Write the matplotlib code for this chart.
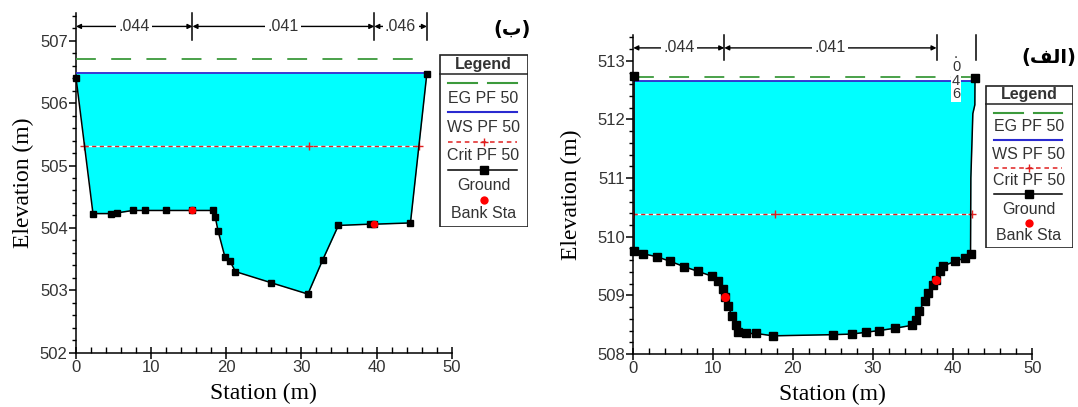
import numpy as np
import matplotlib.pyplot as plt
from matplotlib.ticker import MultipleLocator

# ---- panel (ب): left cross-section ----
sta_b = [0, 2.26, 4.7, 5.4, 7.56, 9.18, 11.99, 15.45, 18.17, 18.54, 18.91, 19.83,
         20.48, 21.22, 26.01, 30.86, 32.84, 34.92, 39.07, 39.67, 44.51, 46.68]
elev_b = [506.41, 504.23, 504.23, 504.24, 504.28, 504.28, 504.28, 504.28, 504.28,
          504.17, 503.95, 503.53, 503.47, 503.30, 503.12, 502.94, 503.49, 504.04,
          504.06, 504.06, 504.08, 506.46]
bank_sta_b = [15.45, 39.67]
bank_elev_b = [504.28, 504.06]
ws_b = 506.48
eg_b = 506.70
crit_b = 505.32
crit_x_b = [1.1, 31.0, 45.7]
n_edges_b = [0, 15.5, 39.7, 46.7]
n_vals_b = ['.044', '.041', '.046']

# ---- panel (الف): right cross-section ----
sta_a = [0.1, 0.1, 1.2, 2.92, 4.64, 6.36, 8.08, 9.8, 10.66, 11.3, 11.44, 11.87, 12.38,
         12.81, 13.16, 14.1, 15.4, 17.5, 25.07, 27.4, 29.1, 30.8, 32.8, 34.95, 35.4,
         35.8, 36.5, 36.9, 37.5, 37.96, 38.4, 38.8, 40.3, 41.6, 42.26, 42.3, 42.55,
         42.8, 42.82]
elev_a = [512.74, 509.75, 509.71, 509.66, 509.58, 509.49, 509.41, 509.33, 509.24,
          509.10, 508.97, 508.82, 508.64, 508.50, 508.38, 508.35, 508.35, 508.31,
          508.33, 508.34, 508.37, 508.40, 508.44, 508.49, 508.58, 508.73, 508.90,
          509.04, 509.18, 509.27, 509.41, 509.50, 509.58, 509.64, 509.70, 511.0,
          512.1, 512.25, 512.70]
no_marker_a = [35, 36, 37]
bank_sta_a = [11.44, 37.96]
bank_elev_a = [508.97, 509.27]
ws_a = 512.66
eg_a = 512.72
crit_a = 510.39
crit_x_a = [0.0, 17.7, 42.4]
n_edges_a = [0, 11.4, 38.0, 42.9]
n_vals_a = ['.044', '.041', '.046']

W, H = 1078, 407
CYAN = '#00ffff'
GREEN = '#3c9a3c'
BLUE = '#2a2ad0'
RED = '#e02020'
TXT = '#333333'
SANS = 'Liberation Sans'
SERIF = 'Liberation Serif'

plt.rcParams['font.family'] = SANS


def px_axes(fig, l, t, w, h):
    return fig.add_axes([l / W, 1 - (t + h) / H, w / W, h / H])


def section(ax, sta, elev, ws, eg, crit, crit_x, bank_sta, bank_elev,
            edges, nvals, ylim, ms, skip=(), ylpad=4):
    sta = np.array(sta)
    elev = np.array(elev)
    ax.fill_between(sta, elev, ws, where=elev <= ws, interpolate=True,
                    color=CYAN, lw=0, zorder=1)
    ax.plot([sta[0], sta[-1]], [eg, eg], color=GREEN, lw=1.3,
            ls=(0, (11, 8.5)), zorder=3)
    ax.plot([sta[0], sta[-1]], [ws, ws], color=BLUE, lw=1.3, zorder=3)
    ax.plot([crit_x[0], crit_x[-1]], [crit, crit], color='white', lw=1.0, zorder=3)
    ax.plot([crit_x[0], crit_x[-1]], [crit, crit], color=RED, lw=1.0,
            ls=(0, (3, 2.5)), zorder=4)
    ax.plot(crit_x, [crit] * len(crit_x), '+', color=RED, ms=6, mew=1.0, zorder=4)
    marks = [i for i in range(len(sta)) if i not in skip]
    ax.plot(sta, elev, color='black', lw=1.1, marker='s', ms=ms,
            markevery=marks, zorder=5, clip_on=False)
    ax.plot(bank_sta, bank_elev, 'o', color='red', ms=ms + 0.5, mec='none', zorder=6)

    # roughness bar
    ytop = ylim[1]
    ybar = ytop - 0.22
    y0 = ytop - 0.43
    for e in edges[1:]:
        ax.plot([e, e], [y0, ytop], color='black', lw=1.1, clip_on=False, zorder=5)
    for i, lab in enumerate(nvals):
        a, b = edges[i], edges[i + 1]
        mid = (a + b) / 2
        if b - a > 6:
            ax.annotate('', xy=(a, ybar), xytext=(b, ybar),
                        arrowprops=dict(arrowstyle='<|-|>', color='black', lw=1.0,
                                        mutation_scale=7, shrinkA=0, shrinkB=0),
                        annotation_clip=False, zorder=5)
            ax.text(mid, ybar, lab, ha='center', va='center', fontsize=11.5,
                    color=TXT, zorder=6,
                    bbox=dict(boxstyle='square,pad=0.15', fc='white', ec='none'))
        elif b - a > 5:
            ax.annotate('', xy=(a, ybar), xytext=(b, ybar),
                        arrowprops=dict(arrowstyle='<|-|>', color='black', lw=1.0,
                                        mutation_scale=6, shrinkA=0, shrinkB=0),
                        annotation_clip=False, zorder=5)
            ax.text(mid, ybar, lab, ha='center', va='center', fontsize=11.5,
                    color=TXT, zorder=6,
                    bbox=dict(boxstyle='square,pad=0.0', fc='white', ec='none'))
        else:
            ax.text(mid, ybar + 0.02, '\n'.join(lab), ha='center', va='top',
                    fontsize=10.5, color=TXT, zorder=6, linespacing=0.95,
                    bbox=dict(boxstyle='square,pad=0.05', fc='white', ec='none'))

    ax.set_xlim(0, 50)
    ax.set_ylim(*ylim)
    for s in ['top', 'right']:
        ax.spines[s].set_visible(False)
    for s in ['left', 'bottom']:
        ax.spines[s].set_linewidth(1.1)
    ax.xaxis.set_major_locator(MultipleLocator(10))
    ax.xaxis.set_minor_locator(MultipleLocator(2))
    ax.yaxis.set_major_locator(MultipleLocator(1))
    ax.yaxis.set_minor_locator(MultipleLocator(0.2))
    ax.tick_params(axis='x', which='major', direction='inout', length=8, width=1.1,
                   labelsize=12, labelcolor=TXT, pad=1)
    ax.tick_params(axis='x', which='minor', direction='in', length=4, width=1.0)
    ax.tick_params(axis='y', which='major', direction='out', length=5, width=1.1,
                   labelsize=12, labelcolor=TXT, pad=1)
    ax.tick_params(axis='y', which='minor', direction='out', length=3, width=1.0)
    ax.set_xlabel('Station (m)', family=SERIF, fontsize=17, labelpad=6)
    ax.set_ylabel('Elevation (m)', family=SERIF, fontsize=17, labelpad=ylpad)


def legend_box(fig, l, t, w, h):
    lg = px_axes(fig, l, t, w, h)
    lg.set_xlim(0, w)
    lg.set_ylim(h, 0)
    lg.axis('off')
    k = h / 173.0
    lg.add_patch(plt.Rectangle((0.5, 0.5), w - 1, h - 1, fill=False, ec='#222222', lw=1.2))
    lg.plot([0, w], [20 * k, 20 * k], color='#222222', lw=1.1)
    lg.text(w / 2, 10 * k, 'Legend', ha='center', va='center', fontsize=11.5,
            weight='bold', color=TXT)
    x0, x1 = 0.1 * w, 0.88 * w
    y = 29.3 * k
    lg.plot([x0, x0 + 0.42 * (x1 - x0)], [y, y], color=GREEN, lw=1.5)
    lg.plot([x1 - 0.42 * (x1 - x0), x1], [y, y], color=GREEN, lw=1.5)
    lg.text(w / 2, 44.3 * k, 'EG PF 50', ha='center', va='center', fontsize=11.5, color=TXT)
    y = 58.3 * k
    lg.plot([x0, x1], [y, y], color=BLUE, lw=1.5)
    lg.text(w / 2, 73.3 * k, 'WS PF 50', ha='center', va='center', fontsize=11.5, color=TXT)
    y = 87.7 * k
    lg.plot([x0, x1], [y, y], color=RED, lw=1.1, ls=(0, (3, 2.5)))
    lg.plot([w / 2], [y], '+', color=RED, ms=6)
    lg.text(w / 2, 101 * k, 'Crit PF 50', ha='center', va='center', fontsize=11.5, color=TXT)
    y = 116 * k
    lg.plot([x0, x1], [y, y], color='black', lw=1.1)
    lg.plot([w / 2], [y], 's', color='black', ms=5.5)
    lg.text(w / 2, 131.7 * k, 'Ground', ha='center', va='center', fontsize=11.5, color=TXT)
    lg.plot([w / 2], [146 * k], 'o', color='red', mec='none', ms=6)
    lg.text(w / 2, 159.3 * k, 'Bank Sta', ha='center', va='center', fontsize=11.5, color=TXT)


fig = plt.figure(figsize=(W / 100, H / 100), dpi=100)

ax_b = px_axes(fig, 76, 12.7, 375.7, 340)
section(ax_b, sta_b, elev_b, ws_b, eg_b, crit_b, crit_x_b, bank_sta_b, bank_elev_b,
        n_edges_b, n_vals_b, (502, 507.45), ms=5, ylpad=4)
legend_box(fig, 439, 54, 89, 173)
fig.text(512 / W, 1 - 30 / H, '(ب)', ha='center', va='center', fontsize=14,
         weight='bold', family=['DejaVu Sans'])

ax_a = px_axes(fig, 633.3, 35, 399, 319)
section(ax_a, sta_a, elev_a, ws_a, eg_a, crit_a, crit_x_a, bank_sta_a, bank_elev_a,
        n_edges_a, n_vals_a, (508, 513.44), ms=6, skip=no_marker_a, ylpad=11)
legend_box(fig, 985, 85, 88, 163)
fig.text(1076 / W, 1 - 58 / H, '(\uFED2\uFEDF\u0627)', ha='right', va='center',
         fontsize=14, weight='bold', family=['DejaVu Sans'])

fig.savefig('out.png', dpi=100)
